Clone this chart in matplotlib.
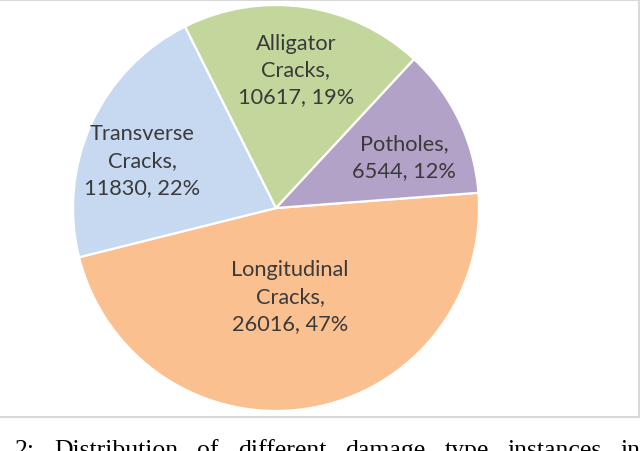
import matplotlib
matplotlib.use("Agg")

import matplotlib.pyplot as plt
import numpy as np
from matplotlib.patches import Rectangle

# data
categories = ["Longitudinal\nCracks", "Transverse\nCracks", "Alligator\nCracks", "Potholes"]
counts = [26016, 11830, 10617, 6544]
colors = ["#FAC090", "#C6D9F1", "#C3D69B", "#B3A2C7"]
caption_words = ["2:", "Distribution", "of", "different", "damage", "type", "instances", "in"]

# label placement (radius fraction, angle nudge in degrees) - excel "best fit"
label_dist = [0.44, 0.70, 0.69, 0.68]
label_nudge = [0, 5, 0, -4]

W, H = 640, 452
fig = plt.figure(figsize=(W / 100, H / 100), dpi=100)

# pie axes: centre (276, 209) px, radius 203 px
cx, cy, r = 276, 209, 203
ax = fig.add_axes([(cx - r) / W, (H - cy - r) / H, 2 * r / W, 2 * r / H])

total = sum(counts)
wedges, _ = ax.pie(
    counts,
    colors=colors,
    startangle=4.3,
    counterclock=False,
    wedgeprops=dict(edgecolor="white", linewidth=1.6),
)
ax.set_xlim(-1, 1)
ax.set_ylim(-1, 1)
ax.set_aspect("equal")
ax.axis("off")

# labels like excel: "name, value, pct%"
for w, cat, n, d, nud in zip(wedges, categories, counts, label_dist, label_nudge):
    ang = np.deg2rad((w.theta1 + w.theta2) / 2 + nud)
    pct = round(100 * n / total)
    ax.text(
        d * np.cos(ang), d * np.sin(ang),
        f"{cat},\n{n}, {pct}%",
        ha="center", va="center", multialignment="center",
        fontsize=15.7, family="Lato", color="#3A3A3A", linespacing=1.42,
    )

# light grey chart frame
fig.add_artist(Rectangle(
    (-0.01, 34.5 / H), 638.5 / W + 0.01, (H - 35) / H,
    transform=fig.transFigure, fill=False, edgecolor="#D9D9D9", linewidth=1.5,
))

# caption (cut off at the bottom, justified)
renderer = fig.canvas.get_renderer()
texts = [fig.text(0, 0, wd, fontsize=18.5, family="Liberation Serif", color="black",
                  va="baseline") for wd in caption_words]
widths = [t.get_window_extent(renderer).width for t in texts]
left, right = 15, 641
gap = (right - left - sum(widths)) / (len(texts) - 1)
x = left
for t, wpx in zip(texts, widths):
    t.set_position((x / W, (H - 457) / H))
    x += wpx + gap

fig.savefig("out.png", dpi=100)
